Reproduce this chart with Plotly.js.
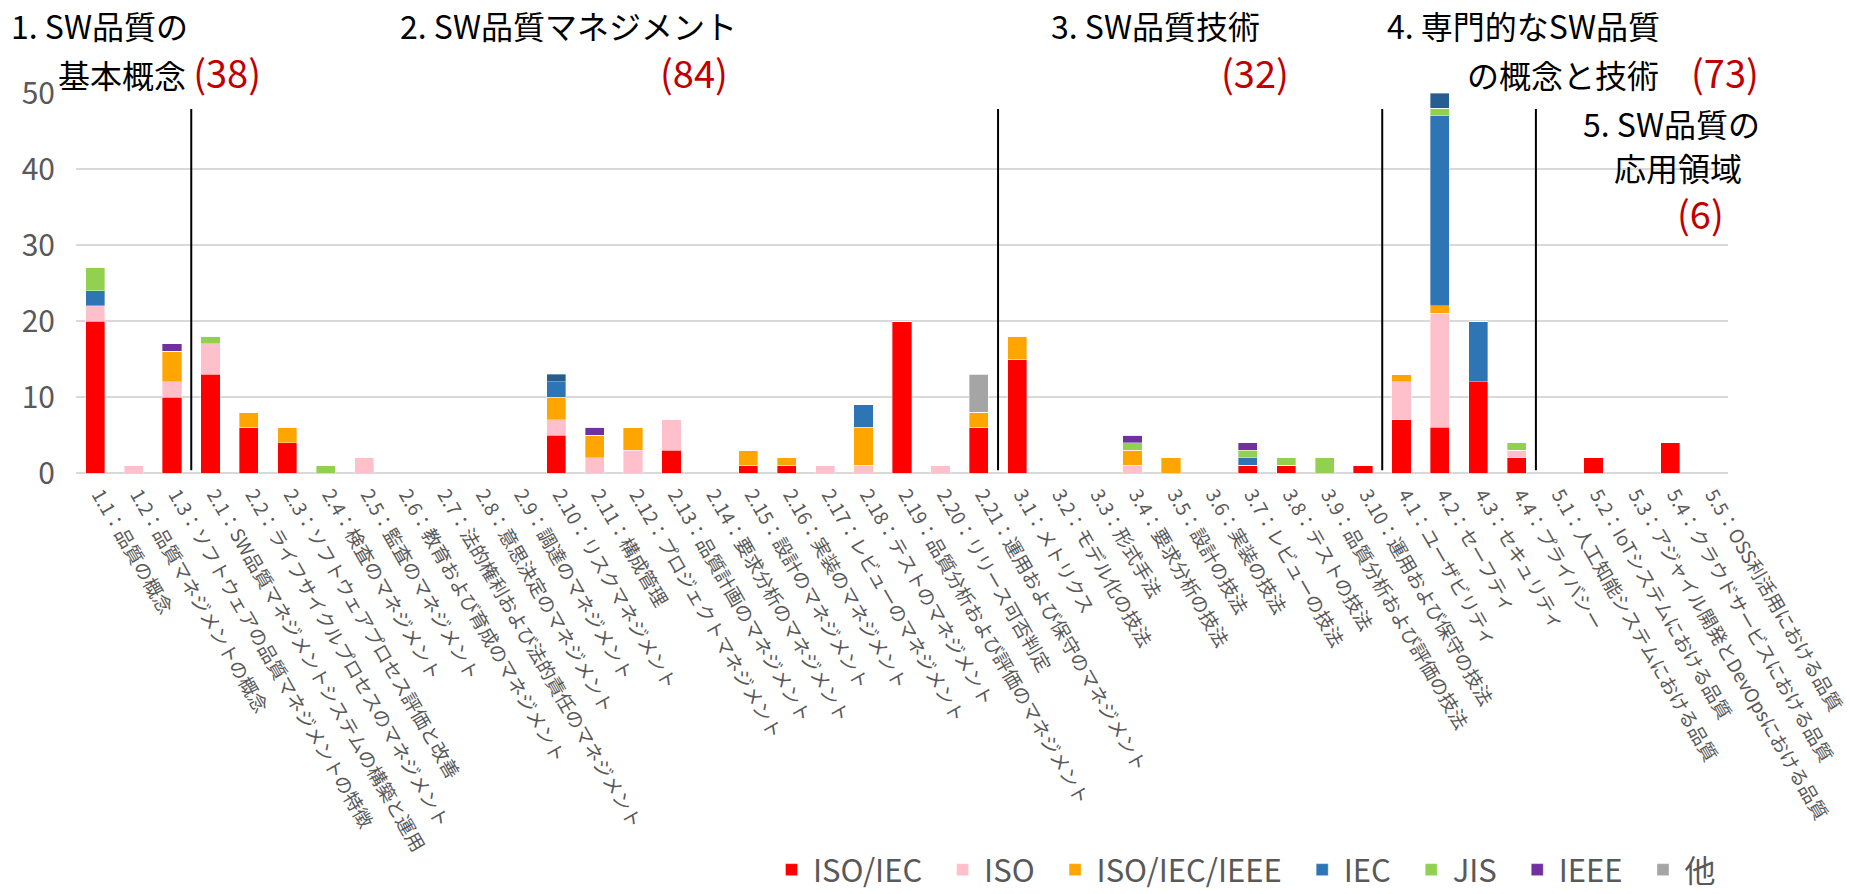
<!DOCTYPE html>
<html>
<head>
<meta charset="utf-8">
<script src="https://cdn.plot.ly/plotly-3.0.1.min.js"></script>
<style>
  html, body { margin: 0; padding: 0; background: #ffffff; }
  #chart { width: 1850px; height: 894px; }
</style>
</head>
<body>
<div id="chart"></div>
<script>
// ---- Data ----
const categories = [
  "1.1：品質の概念",
  "1.2：品質マネジメントの概念",
  "1.3：ソフトウェアの品質マネジメントの特徴",
  "2.1：SW品質マネジメントシステムの構築と運用",
  "2.2：ライフサイクルプロセスのマネジメント",
  "2.3：ソフトウェアプロセス評価と改善",
  "2.4：検査のマネジメント",
  "2.5：監査のマネジメント",
  "2.6：教育および育成のマネジメント",
  "2.7：法的権利および法的責任のマネジメント",
  "2.8：意思決定のマネジメント",
  "2.9：調達のマネジメント",
  "2.10：リスクマネジメント",
  "2.11：構成管理",
  "2.12：プロジェクトマネジメント",
  "2.13：品質計画のマネジメント",
  "2.14：要求分析のマネジメント",
  "2.15：設計のマネジメント",
  "2.16：実装のマネジメント",
  "2.17：レビューのマネジメント",
  "2.18：テストのマネジメント",
  "2.19：品質分析および評価のマネジメント",
  "2.20：リリース可否判定",
  "2.21：運用および保守のマネジメント",
  "3.1：メトリクス",
  "3.2：モデル化の技法",
  "3.3：形式手法",
  "3.4：要求分析の技法",
  "3.5：設計の技法",
  "3.6：実装の技法",
  "3.7：レビューの技法",
  "3.8：テストの技法",
  "3.9：品質分析および評価の技法",
  "3.10：運用および保守の技法",
  "4.1：ユーザビリティ",
  "4.2：セーフティ",
  "4.3：セキュリティ",
  "4.4：プライバシー",
  "5.1：人工知能システムにおける品質",
  "5.2：IoTシステムにおける品質",
  "5.3：アジャイル開発とDevOpsにおける品質",
  "5.4：クラウドサービスにおける品質",
  "5.5：OSS利活用における品質"
];

//                 1.x      | 2.1 ........................................................ 2.21 | 3.1 ............... 3.10 | 4.1..4.4 | 5.1..5.5
const isoIec     = [20,0,10,  13,6,4,0,0,0,0,0,0,5,0,0,3,0,1,1,0,0,20,0,6,  15,0,0,0,0,0,1,1,0,1,  7,6,12,2,  0,2,0,4,0];
const iso        = [2,1,2,    4,0,0,0,2,0,0,0,0,2,2,3,4,0,0,0,1,1,0,1,0,   0,0,0,1,0,0,0,0,0,0,   5,15,0,1,  0,0,0,0,0];
const isoIecIeee = [0,0,4,    0,2,2,0,0,0,0,0,0,3,3,3,0,0,2,1,0,5,0,0,2,   3,0,0,2,2,0,0,0,0,0,   1,1,0,0,   0,0,0,0,0];
const iec        = [2,0,0,    0,0,0,0,0,0,0,0,0,2,0,0,0,0,0,0,0,3,0,0,0,   0,0,0,0,0,0,1,0,0,0,   0,25,8,0,  0,0,0,0,0];
const jis        = [3,0,0,    1,0,0,1,0,0,0,0,0,0,0,0,0,0,0,0,0,0,0,0,0,   0,0,0,1,0,0,1,1,2,0,   0,1,0,1,   0,0,0,0,0];
const ieee       = [0,0,1,    0,0,0,0,0,0,0,0,0,0,1,0,0,0,0,0,0,0,0,0,0,   0,0,0,1,0,0,1,0,0,0,   0,0,0,0,   0,0,0,0,0];
const other      = [0,0,0,    0,0,0,0,0,0,0,0,0,0,0,0,0,0,0,0,0,0,0,0,5,   0,0,0,0,0,0,0,0,0,0,   0,0,0,0,   0,0,0,0,0];
const iecExtra   = [0,0,0,    0,0,0,0,0,0,0,0,0,1,0,0,0,0,0,0,0,0,0,0,0,   0,0,0,0,0,0,0,0,0,0,   0,2,0,0,   0,0,0,0,0];

const seriesNames = ["ISO/IEC", "ISO", "ISO/IEC/IEEE", "IEC", "JIS", "IEEE", "他", "IEC（凡例外）"];
const yTicks = [0, 10, 20, 30, 40, 50];

const sectionTitles = [
  ["1. SW品質の", "基本概念"],
  ["2. SW品質マネジメント", ""],
  ["3. SW品質技術", ""],
  ["4. 専門的なSW品質", "の概念と技術"],
  ["5. SW品質の", "応用領域", ""]
];
const sectionCounts = [38, 84, 32, 73, 6];

// ---- Styles ----
const seriesColors = ["#FF0000", "#FFC0CB", "#FFA500", "#2E75B6", "#92D050", "#7030A0", "#A5A5A5", "#255E91"];
const FONT = "'Noto Sans CJK JP', 'Noto Sans', sans-serif";
const W = 1850, H = 894;
const PL = 76, PR = 1728, PT = 93, PB = 473;
const px2x = px => (px - PL) / (PR - PL);
const px2y = py => (PB - py) / (PB - PT);
const NB = n => "\u00a0".repeat(n);
const IS = "\u3000";

const seriesData = [isoIec, iso, isoIecIeee, iec, jis, ieee, other, iecExtra];
const traces = seriesData.map((vals, i) => ({
  type: "bar",
  name: seriesNames[i] + (i < 6 ? NB(2) : ""),
  x: categories,
  y: vals,
  marker: { color: seriesColors[i], line: { color: "rgba(255,255,255,0.6)", width: 0.6 } },
  showlegend: i < 7,
  hovertemplate: "%{x}<br>" + seriesNames[i] + ": %{y}<extra></extra>"
}));

// section separators derived from the category prefixes
const shapes = [];
for (let i = 1; i < categories.length; i++) {
  if (categories[i].split(".")[0] !== categories[i - 1].split(".")[0]) {
    shapes.push({
      type: "line", xref: "x", yref: "y",
      x0: i - 0.5, x1: i - 0.5, y0: 0.35, y1: 47.9,
      line: { color: "#000000", width: 2 }
    });
  }
}

// section title placement (pixel layout), one entry per line; count is appended to the last line
const redCount = n => `<span style="color:#C00000;font-size:38px">(${n})</span>`;
const titlePlacement = [
  [{ x: 10,   y: 25,  a: "left"  }, { x: 57,   y: 71,  a: "left",  gap: NB(1) }],
  [{ x: 399,  y: 25,  a: "left"  }, { x: 729,  y: 71,  a: "right", gap: "" }],
  [{ x: 1050, y: 25,  a: "left"  }, { x: 1290, y: 71,  a: "right", gap: "" }],
  [{ x: 1386, y: 25,  a: "left"  }, { x: 1760, y: 71,  a: "right", gap: IS }],
  [{ x: 1761, y: 123, a: "right" }, { x: 1743, y: 167, a: "right" }, { x: 1725, y: 212, a: "right", gap: "" }]
];
const annotations = [];
sectionTitles.forEach((lines, s) => {
  lines.forEach((ln, li) => {
    const p = titlePlacement[s][li];
    let t = ln;
    if (li === lines.length - 1) t += p.gap + redCount(sectionCounts[s]);
    annotations.push({
      xref: "paper", yref: "paper",
      x: px2x(p.x), y: px2y(p.y),
      xanchor: p.a, yanchor: "middle", align: p.a,
      text: t, showarrow: false, borderpad: 0,
      font: { family: FONT, size: 32, color: "#000000" }
    });
  });
});

const layout = {
  width: W, height: H,
  paper_bgcolor: "#ffffff",
  plot_bgcolor: "#ffffff",
  barmode: "stack",
  bargap: 0.5,
  margin: { l: PL, r: W - PR, t: PT, b: H - PB, pad: 0, autoexpand: false },
  font: { family: FONT, color: "#595959" },
  xaxis: {
    type: "category",
    tickangle: 60,
    tickfont: { family: FONT, size: 19, color: "#595959" },
    ticklabelstandoff: 6,
    ticklabelshift: 4,
    showgrid: false,
    showline: false,
    ticks: "",
    automargin: false
  },
  yaxis: {
    range: [0, 50],
    tickvals: yTicks,
    ticktext: yTicks.map(String),
    tickfont: { family: FONT, size: 30, color: "#595959" },
    showgrid: true,
    gridcolor: "#D9D9D9",
    gridwidth: 1.5,
    zeroline: true,
    zerolinecolor: "#D9D9D9",
    zerolinewidth: 2,
    showline: false,
    ticks: "",
    ticklabelstandoff: 20,
    automargin: false,
    fixedrange: true
  },
  legend: {
    orientation: "h",
    x: px2x(770), xanchor: "left",
    y: px2y(870), yanchor: "middle",
    font: { family: FONT, size: 31, color: "#595959" },
    itemwidth: 33,
    bgcolor: "rgba(0,0,0,0)",
    traceorder: "normal",
    itemclick: false
  },
  shapes: shapes,
  annotations: annotations
};

Plotly.newPlot("chart", traces, layout, { displayModeBar: false, responsive: false });
</script>
</body>
</html>
